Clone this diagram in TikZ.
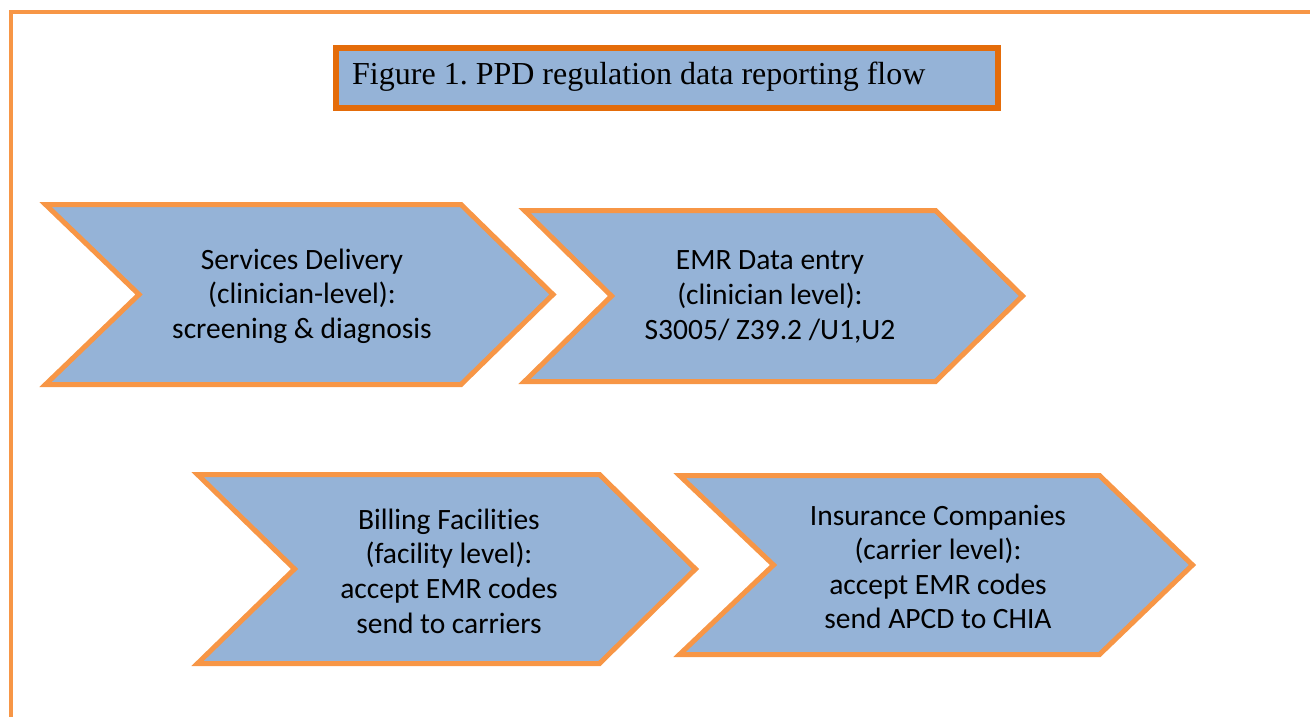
\documentclass[tikz,border=0pt]{standalone}
\usepackage{fontspec}
\setmainfont[Ligatures={NoCommon}]{Carlito}
\newfontfamily\titlefont{Liberation Serif}
\frenchspacing
\definecolor{boxfill}{HTML}{95B3D7}
\definecolor{lightorange}{HTML}{F79646}
\definecolor{darkorange}{HTML}{E46C0A}
\tikzset{
  chevron/.style={fill=boxfill, draw=lightorange, line width=5pt, line join=miter},
  chevtext/.style={align=center, font=\fontsize{29.5}{34.6}\selectfont, text=black, inner sep=0pt},
  titlebox/.style={fill=boxfill, draw=darkorange, line width=6pt},
  frameline/.style={draw=lightorange, line width=4.5pt}
}
\begin{document}
\begin{tikzpicture}[x=1pt,y=-1pt]
\useasboundingbox (0,0) rectangle (1310,717);
% outer frame
\draw[frameline] (11,717) -- (11,12) -- (1310,12);
% title
\node[titlebox, minimum width=662pt, minimum height=60pt, anchor=north west, inner sep=0pt] (title) at (333,45) {};
\node[anchor=west, font=\titlefont\fontsize{32}{36}\selectfont, inner sep=0pt] (titletext) at (352,77) {Figure 1. PPD regulation data reporting flow};
% chevron 1
\draw[chevron] (45.5,204.5) -- (461,204.5) -- (553,294.5) -- (461,384.5) -- (45.5,384.5) -- (139,294.5) -- cycle;
\node[chevtext] (c1) at (302,296) {Services Delivery\\(clinician-level):\\screening \& diagnosis};
% chevron 2
\draw[chevron] (524.5,210.5) -- (935.5,210.5) -- (1022.5,296) -- (935.5,381.5) -- (524.5,381.5) -- (611.5,296) -- cycle;
\node[chevtext] (c2) at (770,297) {EMR Data entry\\(clinician level):\\S3005/ Z39.2 /U1,U2};
% chevron 3
\draw[chevron] (197.5,474.5) -- (599.5,474.5) -- (695.5,569) -- (599.5,663.5) -- (197.5,663.5) -- (294.5,569) -- cycle;
\node[chevtext] (c3) at (449,571) {Billing Facilities\\(facility level):\\accept EMR codes\\send to carriers};
% chevron 4
\draw[chevron] (679.5,475.5) -- (1099.5,475.5) -- (1192.5,565) -- (1099.5,654.5) -- (679.5,654.5) -- (773.5,565) -- cycle;
\node[chevtext] (c4) at (938,567) {Insurance Companies\\(carrier level):\\accept EMR codes\\send APCD to CHIA};
\end{tikzpicture}
\end{document}
